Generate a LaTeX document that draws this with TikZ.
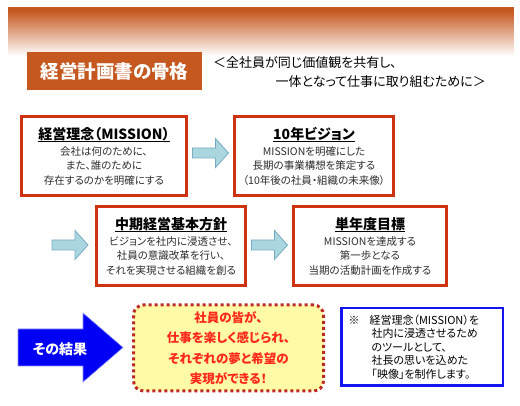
\documentclass[tikz,border=0pt]{standalone}
\usepackage{fontspec}
\setmainfont{Noto Sans CJK JP}[RawFeature=+palt]
\usetikzlibrary{calc}
\definecolor{hdr}{RGB}{197,88,30}
\definecolor{boxred}{RGB}{206,50,14}
\definecolor{arrfill}{RGB}{170,214,224}
\definecolor{arrline}{RGB}{120,170,195}
\definecolor{bigblue}{RGB}{0,0,245}
\definecolor{noteblue}{RGB}{20,20,240}
\definecolor{yel}{RGB}{255,250,165}
\definecolor{dotred}{RGB}{190,40,35}
\definecolor{redtxt}{RGB}{255,40,25}
\definecolor{txt}{RGB}{45,45,45}
\newcommand\myul[1]{\setbox0=\hbox{#1}\rlap{\rule[-2.8pt]{\wd0}{1.1pt}}\box0}
\newcommand\bxttl[1]{{\fontsize{14}{16}\selectfont\bfseries\color{black}\myul{#1}}}
\begin{document}
\begin{tikzpicture}[x=1pt,y=-1pt,
  planbox/.style={draw=boxred, line width=3pt, fill=white, inner sep=0pt, align=center, text=txt,
    minimum height=79pt, font=\fontsize{10.5}{14.5}\selectfont},
  flowarr/.pic={\draw[draw=arrline, fill=arrfill, line width=0.8pt, line join=miter]
    (-18,-5) -- (5,-5) -- (5,-14.5) -- (18,0) -- (5,14.5) -- (5,5) -- (-18,5) -- cycle;},
  bigarr/.pic={\draw[draw=blue!45!white, fill=bigblue, line width=0.6pt, line join=miter]
    (-52.5,-18.5) -- (12.5,-18.5) -- (12.5,-34.5) -- (52.5,0) -- (12.5,34.5) -- (12.5,18.5) -- (-52.5,18.5) -- cycle;}
]
\useasboundingbox (0,0) rectangle (520,406);
\foreach \i in {0,...,50} {
  \pgfmathtruncatemacro\pc{max(0,min(100,108-2.2*\i))}
  \fill[hdr!\pc!white] (8,7+\i) rectangle (514,8.3+\i);
}
\node[fill=hdr, text=white, minimum width=175pt, minimum height=38pt, inner sep=0pt,
  font=\fontsize{18.5}{20}\selectfont\bfseries] (title) at (114.5,71) {経営計画書の骨格};
\node[anchor=west, inner sep=0pt, font=\fontsize{13}{15}\selectfont] (sub1) at (213,63) {＜全社員が同じ価値観を共有し、};
\node[anchor=east, inner sep=0pt, font=\fontsize{13}{15}\selectfont] (sub2) at (486,82) {一体となって仕事に取り組むために＞};

\node[planbox, minimum width=165pt] (b1) at (104,156) {\bxttl{経営理念（MISSION）}\\[1.5pt]会社は何のために、\\また、誰のために\\存在するのかを明確にする};
\node[planbox, minimum width=159pt] (b2) at (314,156) {\bxttl{10年ビジョン}\\[1.5pt]MISSIONを明確にした\\長期の事業構想を策定する\\（10年後の社員・組織の未来像）};
\node[planbox, minimum width=149pt] (b3) at (171,246) {\bxttl{中期経営基本方針}\\[1.5pt]ビジョンを社内に浸透させ、\\社員の意識改革を行い、\\それを実現させる組織を創る};
\node[planbox, minimum width=153pt] (b4) at (370,246) {\bxttl{単年度目標}\\[1.5pt]MISSIONを達成する\\第一歩となる\\当期の活動計画を作成する};

\coordinate (c1) at ($(b1.east)!0.5!(b2.west)+(0,-3)$);
\coordinate (c2) at ($(b3.west)+(-25,-1)$);
\coordinate (c3) at ($(b3.east)!0.5!(b4.west)+(0,-1)$);
\pic (a1) at (c1) {flowarr};
\pic (a2) at (c2) {flowarr};
\pic (a3) at (c3) {flowarr};

\coordinate (c4) at (70.5,347.5);
\pic (ba) at (c4) {bigarr};
\node[text=white, inner sep=0pt, font=\fontsize{14}{16}\selectfont\bfseries] (result) at (60,349) {その結果};

\node[draw=dotred, line width=3pt, dash pattern=on 3pt off 3pt, fill=yel, rounded corners=10pt,
  minimum width=190pt, minimum height=86pt, inner sep=0pt, align=center, text=redtxt,
  font=\fontsize{12.5}{20.5}\selectfont\bfseries] (dream) at (228.5,348) {社員の皆が、\\仕事を楽しく感じられ、\\それぞれの夢と希望の\\実現ができる！};

\node[draw=noteblue, line width=2.5pt, fill=white, minimum width=161.5pt, minimum height=77.5pt,
  text width=147pt, inner sep=0pt, align=left, font=\fontsize{11}{13.5}\selectfont] (note) at (422,347)
  {\makebox[21pt][l]{※}経営理念（MISSION）を\\\hspace*{23pt}社内に浸透させるため\\\hspace*{23pt}のツールとして、\\\hspace*{23pt}社長の思いを込めた\\\hspace*{23pt}「映像」を制作します。};
\end{tikzpicture}
\end{document}
